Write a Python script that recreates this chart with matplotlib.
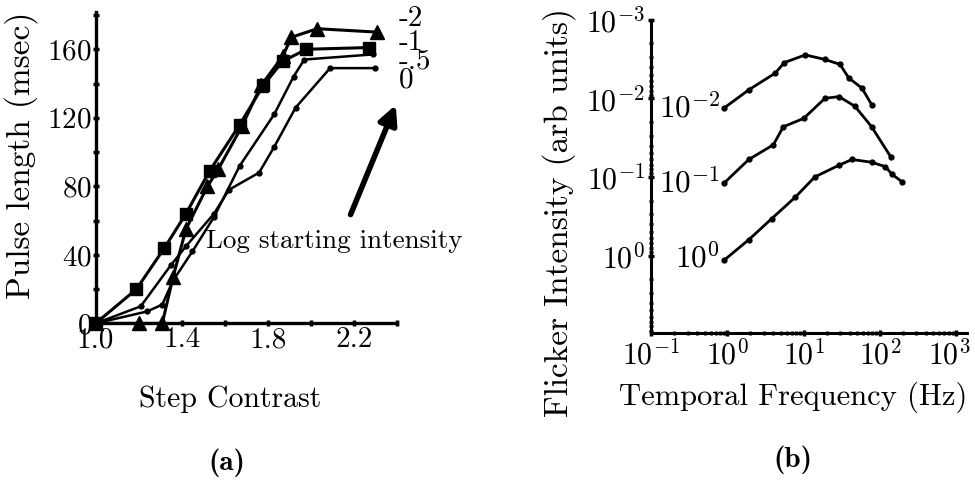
import numpy as np
import matplotlib
matplotlib.use("Agg")
from matplotlib import pyplot as plt
from matplotlib.ticker import FixedLocator, LogLocator, NullFormatter
from matplotlib.transforms import ScaledTranslation

## Daten (a): Pulslaenge gegen Stufenkontrast
contrast_m2 = [1.0, 1.2, 1.31, 1.36, 1.42, 1.52, 1.57, 1.68, 1.77, 1.87, 1.91, 2.03, 2.31]
pulse_m2 = [0, 0, 0, 27, 55, 80, 90, 115, 139, 156, 167, 172, 170]

contrast_m1 = [1.0, 1.19, 1.32, 1.42, 1.53, 1.67, 1.78, 1.87, 1.98, 2.27]
pulse_m1 = [0, 20, 44, 64, 89, 116, 139, 153, 160, 161]

contrast_m05 = [1.0, 1.24, 1.31, 1.36, 1.45, 1.55, 1.67, 1.83, 1.92, 1.97, 2.29]
pulse_m05 = [0, 7, 11, 25, 42, 62, 92, 122, 144, 154, 157]

contrast_0 = [1.0, 1.21, 1.35, 1.42, 1.55, 1.62, 1.76, 1.83, 1.93, 2.09, 2.30]
pulse_0 = [0, 10, 34, 45, 64, 78, 88, 103, 126, 149, 149]

curve_labels_a = ["-2", "-1", "-.5", "0"]
label_pos_a = [178, 164, 153, 142]

## Daten (b): Flimmerschwelle gegen Frequenz
freq_top = [0.9, 1.9, 4.2, 5.6, 10.5, 19, 30, 39, 58, 78]
flick_top = [0.0133, 0.0078, 0.0048, 0.0035, 0.0028, 0.0032, 0.0037, 0.0055, 0.0074, 0.012]

freq_mid = [0.9, 1.9, 4.0, 5.4, 10, 19, 29, 47, 78, 138]
flick_mid = [0.12, 0.060, 0.039, 0.023, 0.018, 0.010, 0.0095, 0.0126, 0.023, 0.055]

freq_bot = [0.9, 1.9, 3.8, 7.8, 14, 29, 43, 78, 118, 145, 195]
flick_bot = [1.15, 0.63, 0.34, 0.18, 0.10, 0.071, 0.060, 0.065, 0.074, 0.093, 0.115]

curve_labels_b = [r"$10^{-2}$", r"$10^{-1}$", r"$10^{0}$"]
label_y_b = [0.0133, 0.12, 1.1]

plt.rcParams['font.family'] = ['cmr10', 'DejaVu Serif']
plt.rcParams['mathtext.fontset'] = 'cm'
plt.rcParams['axes.unicode_minus'] = False
plt.rcParams['axes.formatter.use_mathtext'] = True

fig = plt.figure(figsize=(9.75, 4.82), dpi=100)

# (a)
ax = fig.add_axes([0.098, 0.329, 0.309, 0.647])
lw = 2.2
ax.plot(contrast_m2, pulse_m2, '-^', color='black', lw=lw, ms=10, clip_on=False)
ax.plot(contrast_m1, pulse_m1, '-s', color='black', lw=lw, ms=8, clip_on=False)
ax.plot(contrast_m05, pulse_m05, '-o', color='black', lw=1.8, ms=3.5, clip_on=False)
ax.plot(contrast_0, pulse_0, '-o', color='black', lw=1.8, ms=3.5, clip_on=False)

ax.set_xlim(1.0, 2.4)
ax.set_ylim(0, 182)
for s in ['top', 'right']:
    ax.spines[s].set_visible(False)
for s in ['left', 'bottom']:
    ax.spines[s].set_linewidth(2.4)
ax.xaxis.set_major_locator(FixedLocator([1.0, 1.4, 1.8, 2.2]))
ax.xaxis.set_minor_locator(FixedLocator([1.2, 1.6, 2.0, 2.4]))
ax.yaxis.set_major_locator(FixedLocator([0, 40, 80, 120, 160]))
ax.yaxis.set_minor_locator(FixedLocator([20, 60, 100, 140, 180]))
ax.set_xticklabels(["1.0", "1.4", "1.8", "2.2"])
ax.tick_params(which='both', direction='inout', length=5, width=2.5, labelsize=21, pad=0)
ax.set_xlabel("Step Contrast", fontsize=21.5)
ax.xaxis.set_label_coords(0.446, -0.20)
ax.set_ylabel("Pulse length (msec)", fontsize=24)
ax.yaxis.set_label_coords(-0.19, 0.54)

for txt, yp in zip(curve_labels_a, label_pos_a):
    ax.text(2.41, yp, txt, fontsize=21, ha='left', va='center', clip_on=False)

ax.annotate("", xy=(2.40, 129), xytext=(2.18, 62), annotation_clip=False,
            arrowprops=dict(arrowstyle='-|>', lw=4, color='black', mutation_scale=28))
ax.text(1.515, 48, "Log starting intensity", fontsize=19.5, ha='left', va='center')
fig.text(0.233, 0.039, "(a)", fontsize=21, family='cmb10', ha='center', va='center')

# (b)
bx = fig.add_axes([0.668, 0.309, 0.324, 0.65])
bx.set_xscale('log')
bx.set_yscale('log')
bx.plot(freq_top, flick_top, '-o', color='black', lw=2.0, ms=3.5)
bx.plot(freq_mid, flick_mid, '-o', color='black', lw=2.0, ms=3.5)
bx.plot(freq_bot, flick_bot, '-o', color='black', lw=2.0, ms=3.5)
bx.set_xlim(0.1, 1400)
bx.set_ylim(9.7, 1e-3)
for s in ['top', 'right']:
    bx.spines[s].set_visible(False)
for s in ['left', 'bottom']:
    bx.spines[s].set_linewidth(2.2)
bx.xaxis.set_major_locator(FixedLocator([0.1, 1, 10, 100, 1000]))
bx.yaxis.set_major_locator(FixedLocator([1e-3, 1e-2, 1e-1, 1]))
bx.xaxis.set_minor_locator(LogLocator(subs=np.arange(2, 10), numticks=20))
bx.yaxis.set_minor_locator(LogLocator(subs=np.arange(2, 10), numticks=20))
bx.xaxis.set_minor_formatter(NullFormatter())
bx.yaxis.set_minor_formatter(NullFormatter())
bx.tick_params(which='major', direction='inout', length=5, width=2.5, labelsize=21.5, pad=2)
bx.tick_params(which='minor', direction='inout', length=3, width=2.0)
bx.set_xlabel("Temporal Frequency (Hz)", fontsize=22)
bx.xaxis.set_label_coords(0.448, -0.155)
bx.set_ylabel("Flicker Intensity (arb units)", fontsize=24)
bx.yaxis.set_label_coords(-0.237, 0.385)

# letzte Beschriftung etwas nach links, damit sie nicht abgeschnitten wird
last = bx.xaxis.get_major_ticks()[-1].label1
last.set_transform(last.get_transform() + ScaledTranslation(-0.07, 0, fig.dpi_scale_trans))

for txt, yp in zip(curve_labels_b, label_y_b):
    bx.text(0.8, yp, txt, fontsize=22.5, ha='right', va='center')

fig.text(0.813, 0.046, "(b)", fontsize=21, family='cmb10', ha='center', va='center')

fig.savefig("out.png", dpi=100)
